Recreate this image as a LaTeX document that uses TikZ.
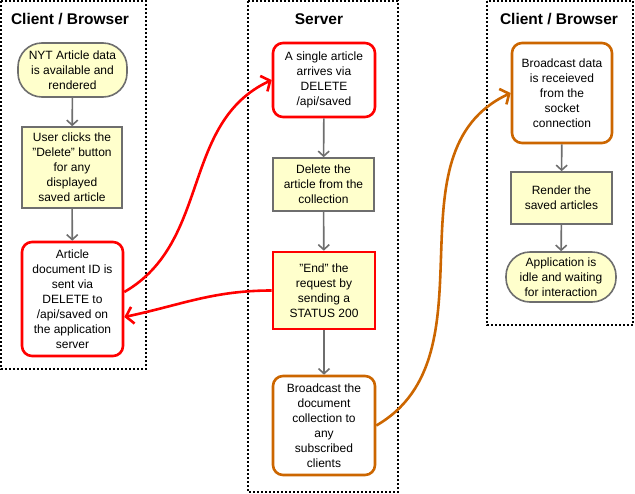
\documentclass[tikz,border=0pt]{standalone}
\usepackage{fontspec}
\setmainfont{Liberation Sans}
\usetikzlibrary{arrows.meta, positioning}

\definecolor{notefill}{HTML}{FFFFCC}
\definecolor{stepgray}{HTML}{6E6E6E}
\definecolor{linkorange}{HTML}{CC6600}

\begin{document}
\begin{tikzpicture}[x=1pt, y=-1pt,
                font=\fontsize{12}{15}\selectfont,
                group/.style={draw, line width=1.3pt, dash pattern=on 2pt off 2pt},
                title/.style={font=\fontsize{15.5}{18}\selectfont\bfseries},
                action/.style={draw=stepgray, line width=1.6pt, fill=notefill, align=center, inner sep=0pt},
                terminal/.style={action, rounded corners=24pt},
                request/.style={draw=red, line width=2.6pt, fill=white, rounded corners=10pt, align=center, inner sep=0pt},
                socket/.style={request, draw=linkorange},
                flow/.style={-{Straight Barb[length=5pt, width=11pt]}, stepgray, line width=1.6pt},
                link/.style={-{Straight Barb[length=7pt, width=17pt]}, line width=2.6pt}]

                \useasboundingbox (0,0) rectangle (635,493);

                % Swim lanes
                \draw[group] (1,1) rectangle (146,369);
                \draw[group] (248,1) rectangle (398,492);
                \draw[group] (487,1) rectangle (633,325);

                \node[title] (client-a) at (70,19) {Client / Browser};
                \node[title] (server) at (319,19) {Server};
                \node[title] (client-b) at (559,19) {Client / Browser};

                % Client (left)
                \node[terminal, minimum width=109pt, minimum height=54pt] (loaded) at (72.5,70)
                    {NYT Article data\\is available and\\rendered};
                \node[action, minimum width=100pt, minimum height=81pt] (click) at (72,167.5)
                    {User clicks the\\"Delete" button\\for any\\displayed\\saved article};
                \node[request, minimum width=101pt, minimum height=114pt] (send) at (72.5,299)
                    {Article\\document ID is\\sent via\\DELETE to\\/api/saved on\\the application\\server};

                % Server
                \node[request, minimum width=102pt, minimum height=74pt] (arrive) at (324,80)
                    {A single article\\arrives via\\DELETE\\/api/saved};
                \node[action, minimum width=101pt, minimum height=53pt] (remove) at (323.5,184.5)
                    {Delete the\\article from the\\collection};
                \node[action, draw=red, line width=2.6pt, minimum width=102pt, minimum height=77pt] (reply) at (324,290.5)
                    {"End" the\\request by\\sending a\\STATUS 200};
                \node[socket, minimum width=102pt, minimum height=99pt] (broadcast) at (324,425.5)
                    {Broadcast the\\document\\collection to\\any\\subscribed\\clients};

                % Client (right)
                \node[socket, minimum width=100pt, minimum height=100pt] (receive) at (562,93)
                    {Broadcast data\\is receieved\\from the\\socket\\connection};
                \node[action, minimum width=101pt, minimum height=52pt] (render) at (561.5,198)
                    {Render the\\saved articles};
                \node[terminal, minimum width=110pt, minimum height=50pt] (idle) at (561,277)
                    {Application is\\idle and waiting\\for interaction};

                % Steps within each lane
                \draw[flow] (loaded) -- (click);
                \draw[flow] (click) -- (send);
                \draw[flow] (arrive) -- (remove);
                \draw[flow] (remove) -- (reply);
                \draw[flow] (reply) -- (broadcast);
                \draw[flow] (receive) -- (render);
                \draw[flow] (render) -- (idle);

                % Requests between lanes
                \draw[link, red] ([yshift=7pt]send.east) to[out=30, in=205] (arrive.west);
                \draw[link, red] (reply.west) to[out=180, in=12] ([yshift=-18pt]send.east);
                \draw[link, linkorange] (broadcast.east) to[out=30, in=205] (receive.west);
            \end{tikzpicture}
\end{document}
